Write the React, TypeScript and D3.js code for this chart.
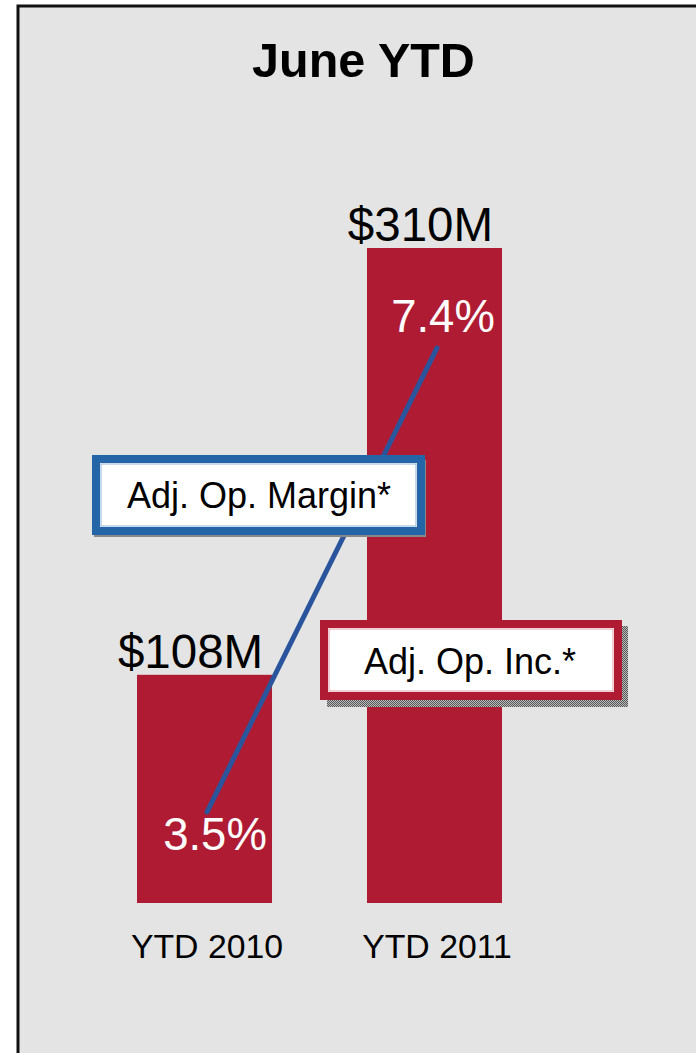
import React from "react";
import * as d3 from "d3";

const categories = ["YTD 2010", "YTD 2011"];
const opIncome = [108, 310];
const opIncomeLabels = ["$108M", "$310M"];
const opMargin = [3.5, 7.4];
const opMarginLabels = ["3.5%", "7.4%"];
const title = "June YTD";
const legendMargin = "Adj. Op. Margin*";
const legendIncome = "Adj. Op. Inc.*";

const W = 696;
const H = 1053;
const RED = "#b01b34";
const BLUE_LINE = "#2a559c";
const BLUE_BOX = "#2365a6";
const BG = "#e4e4e4";
const FONT = "'Liberation Sans', Arial, Helvetica, sans-serif";

export default function App() {
  const x = d3.scaleBand<string>().domain(categories).range([137, 502]).paddingInner(0.413).paddingOuter(0);
  const y = d3.scaleLinear().domain([0, 310]).range([903, 248]);
  const y2 = d3.scaleLinear().domain([0, 8]).range([1228.4, 276.6]);
  const bw = x.bandwidth();

  const linePts: [number, number][] = categories.map((c, i) => [x(c)! + bw / 2 + 2.5, y2(opMargin[i])]);
  const line = d3.line()(linePts) || "";

  return (
    <svg width={W} height={H} style={{ position: "absolute", left: 0, top: 0 }} fontFamily={FONT}>
      <defs>
        <pattern id="dots" width="2" height="2" patternUnits="userSpaceOnUse">
          <rect width="2" height="2" fill="#bdbdbd" />
          <rect width="1" height="1" fill="#555" />
          <rect x="1" y="1" width="1" height="1" fill="#555" />
        </pattern>
      </defs>
      <rect x={0} y={0} width={W} height={H} fill="#fff" />
      <rect x={18} y={6} width={W} height={H} fill={BG} stroke="#111" strokeWidth={3} />
      <text x={363.5} y={77} textAnchor="middle" fontSize={48.5} fontWeight="bold" fill="#000">{title}</text>

      {categories.map((c, i) => (
        <g key={c}>
          <rect x={x(c)} y={y(opIncome[i])} width={bw} height={y(0) - y(opIncome[i])} fill={RED} />
          <text x={x(c)! + bw / 2 - 14} y={y(opIncome[i]) - 7} textAnchor="middle" fontSize={47.5} fill="#000">{opIncomeLabels[i]}</text>
          <text x={x(c)! + bw / 2 + 2.5} y={958} textAnchor="middle" fontSize={33.8} fill="#000">{c}</text>
        </g>
      ))}

      <path d={line} stroke={BLUE_LINE} strokeWidth={5} fill="none" strokeLinecap="round" />

      <text x={linePts[0][0] + 8} y={linePts[0][1] + 38} textAnchor="middle" fontSize={45.5} fill="#fff">{opMarginLabels[0]}</text>
      <text x={linePts[1][0] + 6} y={linePts[1][1] - 16} textAnchor="middle" fontSize={45.5} fill="#fff">{opMarginLabels[1]}</text>

      {/* Margin legend box */}
      <rect x={94} y={460} width={332} height={77} fill="#888" />
      <rect x={96} y={459} width={325} height={72} fill="#fff" stroke={BLUE_BOX} strokeWidth={8} />
      <rect x={101} y={464} width={315} height={62} fill="none" stroke="#8fb3d6" strokeWidth={1} />
      <text x={259} y={508} textAnchor="middle" fontSize={36} fill="#000">{legendMargin}</text>

      {/* Income legend box */}
      <rect x={327} y={626} width={301} height={81} fill="url(#dots)" />
      <rect x={324} y={624} width={294} height={72} fill="#fff" stroke={RED} strokeWidth={8} />
      <rect x={329} y={629} width={284} height={62} fill="none" stroke="#e0a0aa" strokeWidth={1} />
      <text x={470} y={674} textAnchor="middle" fontSize={36} fill="#000">{legendIncome}</text>
    </svg>
  );
}
